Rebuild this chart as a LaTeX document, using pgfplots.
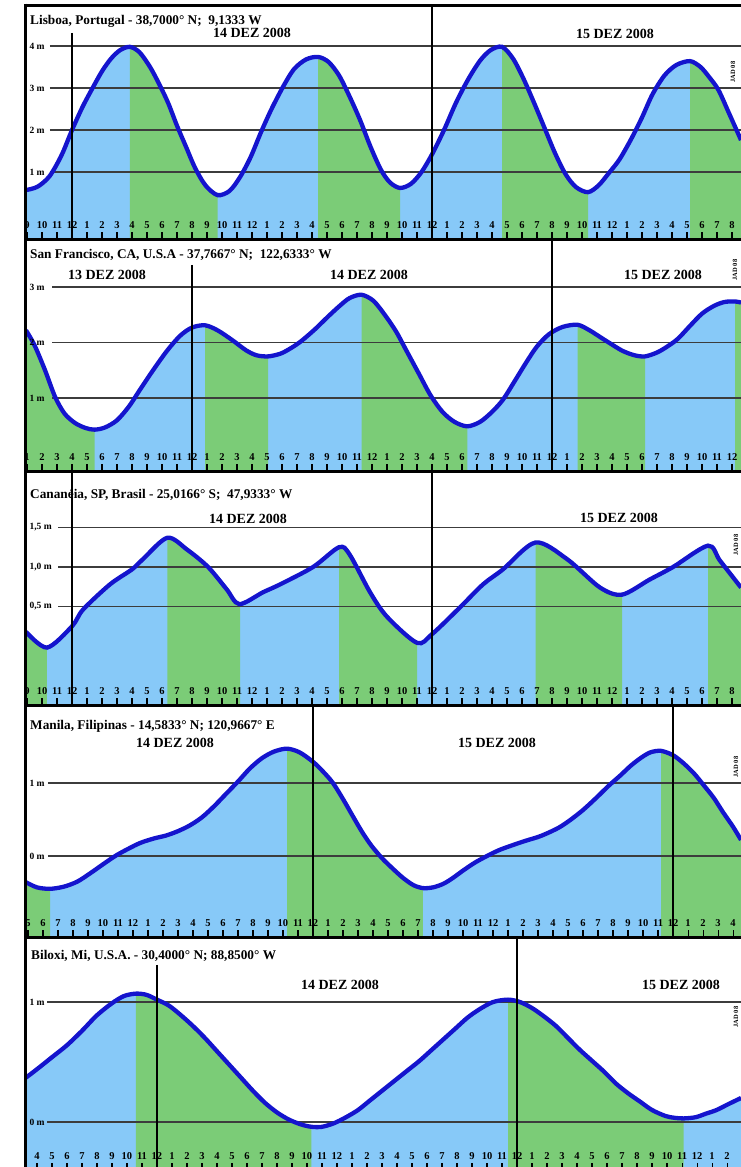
\documentclass[border=0pt]{standalone}
\usepackage{fontspec}
\setmainfont{Liberation Serif}
\usepackage{pgfplots}
\pgfplotsset{compat=1.18}
\usepackage{pgfplotstable}
\usepgfplotslibrary{fillbetween}

\definecolor{seablue}{RGB}{135,201,248}
\definecolor{ebbgreen}{RGB}{123,204,119}
\definecolor{tideline}{RGB}{20,20,205}
\definecolor{gridgray}{RGB}{60,60,60}

% hours from midnight of 14 Dec (Manila: from the line at "12"), height in m
\pgfplotstableread{
h m
-3.07 0.57
-2.3 0.65
-1.5 0.9
-0.7 1.4
0 2.0
0.7 2.55
1.4 3.02
2.0 3.4
2.6 3.7
3.2 3.9
3.85 3.98
4.5 3.85
5.2 3.5
5.8 3.1
6.4 2.65
7.0 2.1
7.6 1.6
8.2 1.1
8.9 0.68
9.7 0.45
10.5 0.55
11.2 0.88
11.9 1.35
12.6 1.95
13.3 2.5
14.1 3.05
14.8 3.45
15.6 3.68
16.4 3.74
17.1 3.62
17.8 3.3
18.5 2.8
19.2 2.24
19.9 1.6
20.6 1.05
21.2 0.75
21.87 0.62
22.6 0.72
23.3 1.0
24 1.42
24.8 2.0
25.6 2.65
26.4 3.2
27.2 3.65
27.9 3.9
28.67 3.98
29.4 3.7
30.1 3.22
30.8 2.65
31.5 2.05
32.2 1.45
32.9 0.95
33.6 0.64
34.4 0.52
35.1 0.68
35.8 0.98
36.5 1.3
37.3 1.8
38.0 2.3
38.7 2.85
39.5 3.3
40.3 3.55
41.2 3.64
41.9 3.5
42.5 3.25
43.1 2.95
43.8 2.4
44.6 1.76
}\lisboa

\pgfplotstableread{
h m
-11.07 2.22
-10.5 1.95
-9.8 1.5
-9.13 1.02
-8.5 0.72
-7.8 0.55
-7.1 0.46
-6.5 0.43
-5.8 0.47
-5.0 0.6
-4.2 0.85
-3.47 1.15
-2.6 1.5
-1.67 1.85
-0.8 2.12
0 2.27
0.87 2.31
1.7 2.22
2.7 2.04
3.6 1.86
4.3 1.77
5.07 1.75
5.9 1.8
6.6 1.9
7.3 2.03
8.2 2.24
9.0 2.45
9.8 2.65
10.5 2.8
11.3 2.86
12.1 2.75
12.9 2.48
13.6 2.2
14.3 1.85
15.1 1.45
15.9 1.05
16.7 0.75
17.5 0.57
18.35 0.49
19.2 0.57
20.0 0.75
20.73 0.97
21.5 1.3
22.3 1.65
23 1.93
23.8 2.15
24.7 2.28
25.7 2.32
26.5 2.22
27.2 2.1
27.9 1.98
28.7 1.85
29.5 1.77
30.2 1.75
31.0 1.82
31.7 1.93
32.4 2.07
33.2 2.3
34.0 2.52
34.8 2.66
35.5 2.73
36.2 2.74
36.6 2.72
}\sanfran

\pgfplotstableread{
h m
-3.07 0.18
-1.67 -0.02
0 0.25
0.73 0.46
2.53 0.78
4.0 0.97
4.73 1.1
6.35 1.37
7.67 1.22
9.07 1.0
10.3 0.72
11.15 0.53
12.73 0.68
13.87 0.78
16.07 1.0
17.8 1.25
18.5 1.16
19.87 0.68
21 0.37
23 0.04
24 0.15
25.87 0.49
27.4 0.78
28.73 0.97
30.9 1.31
33 1.1
35.2 0.74
36.67 0.65
38.5 0.84
40.07 1.0
42.4 1.27
43.2 1.08
44.6 0.74
}\cananeia

\pgfplotstableread{
h m
-19.13 -0.36
-18.4 -0.43
-17.53 -0.45
-16.6 -0.42
-15.7 -0.35
-14.8 -0.23
-13.9 -0.1
-13.1 0.01
-12.3 0.1
-11.5 0.18
-10.6 0.24
-9.8 0.28
-9.0 0.34
-8.2 0.42
-7.4 0.53
-6.6 0.68
-5.8 0.85
-5.0 1.02
-4.2 1.2
-3.4 1.34
-2.6 1.43
-1.73 1.47
-0.9 1.42
0 1.29
0.7 1.15
1.33 1.0
2.0 0.78
2.67 0.54
3.3 0.32
3.9 0.14
4.6 -0.03
5.3 -0.17
6.0 -0.3
6.7 -0.4
7.33 -0.44
8.0 -0.43
8.7 -0.38
9.33 -0.30
10.0 -0.2
10.8 -0.09
11.6 0.0
12.4 0.08
13.33 0.15
14.2 0.21
15.0 0.26
15.6 0.31
16.4 0.39
17.13 0.49
18.0 0.63
18.9 0.8
19.7 0.96
20.47 1.1
21.2 1.24
21.9 1.35
22.5 1.42
23.2 1.44
24 1.38
24.7 1.27
25.4 1.13
26 0.98
26.7 0.8
27.33 0.6
28.0 0.4
28.53 0.22
}\manila

\pgfplotstableread{
h m
-8.73 0.37
-8.0 0.44
-7.0 0.54
-6.0 0.64
-5.0 0.76
-4.0 0.89
-3.0 0.99
-2.2 1.05
-1.4 1.07
-0.7 1.06
0 1.02
0.8 0.97
1.6 0.89
2.4 0.8
3.2 0.7
4.0 0.59
4.8 0.48
5.6 0.37
6.4 0.26
7.2 0.16
8.0 0.08
8.8 0.02
9.6 -0.02
10.3 -0.04
11.0 -0.04
11.8 -0.01
12.6 0.04
13.4 0.1
14.2 0.18
15.0 0.26
15.9 0.35
16.7 0.43
17.5 0.51
18.3 0.6
19.1 0.69
19.9 0.78
20.7 0.87
21.5 0.94
22.4 1.0
23.4 1.02
24.2 1.0
25.0 0.95
25.8 0.88
26.6 0.8
27.4 0.7
28.2 0.6
29.0 0.51
29.8 0.42
30.6 0.32
31.4 0.24
32.2 0.17
33.0 0.1
33.9 0.05
34.5 0.035
35.1 0.03
35.9 0.04
36.6 0.07
37.3 0.1
38.1 0.15
38.93 0.2
}\biloxi

\pgfplotsset{
  panel/.style={
    width=715pt, scale only axis, anchor=north west,
    axis line style={draw=none},
    tick pos=left, tick align=inside,
    xtick={-24,...,48}, major tick length=7pt,
    xtick style={black, line width=1.1pt},
    ytick style={draw=none},
    xticklabel={\pgfmathtruncatemacro\hh{mod(round(\tick)+1200,12)}\ifnum\hh=0 12\else\hh\fi},
    xticklabel style={font=\bfseries\fontsize{10.5}{11}\selectfont, anchor=base, yshift=11pt},
    yticklabel style={font=\bfseries\fontsize{9.5}{10}\selectfont, anchor=west},
    axis on top,
  },
  tide/.style={tideline, line width=4.3pt, smooth},
}
\tikzset{
  gridl/.style={gridgray, line width=1.3pt},
  vline/.style={black, line width=1.3pt},
  ttl/.style={anchor=base west, inner sep=0pt, font=\bfseries\fontsize{13.3}{15}\selectfont},
  dte/.style={anchor=base, inner sep=0pt, font=\bfseries\fontsize{14}{16}\selectfont},
  jad/.style={rotate=90, inner sep=0pt, font=\bfseries\fontsize{6.5}{7}\selectfont},
}

\begin{document}
\begin{tikzpicture}

% Lisboa
\begin{axis}[panel, at={(26pt,-5pt)}, height=234pt,
  xmin=-3.07, xmax=44.6, ymin=-0.595, ymax=4.976,
  ytick={1,2,3,4}, yticklabels={1 m,2 m,3 m,4 m}]
\draw[gridl] (axis cs:-1.47,1) -- (axis cs:50,1);
\draw[gridl] (axis cs:-1.47,2) -- (axis cs:50,2);
\draw[gridl] (axis cs:-1.47,3) -- (axis cs:50,3);
\draw[gridl] (axis cs:-1.47,4) -- (axis cs:50,4);
\addplot[draw=none, smooth, name path=c1] table {\lisboa};
\addplot[draw=none, name path=b1] coordinates {(-3.07,-2) (44.6,-2)};
\addplot[fill=seablue, draw=none] fill between[of=c1 and b1];
\addplot[fill=ebbgreen, draw=none] fill between[of=c1 and b1, soft clip={domain=3.85:9.7}];
\addplot[fill=ebbgreen, draw=none] fill between[of=c1 and b1, soft clip={domain=16.4:21.87}];
\addplot[fill=ebbgreen, draw=none] fill between[of=c1 and b1, soft clip={domain=28.67:34.4}];
\addplot[fill=ebbgreen, draw=none] fill between[of=c1 and b1, soft clip={domain=41.2:44.6}];
\addplot[tide] table {\lisboa};
\draw[vline] (axis cs:0,4.31) -- (axis cs:0,-2);
\draw[vline] (axis cs:24,6) -- (axis cs:24,-2);
\end{axis}

% San Francisco
\begin{axis}[panel, at={(26pt,-239pt)}, height=232pt,
  xmin=-11.07, xmax=36.6, ymin=-0.315, ymax=3.865,
  ytick={1,2,3}, yticklabels={1 m,2 m,3 m}]
\draw[gridl] (axis cs:-9.33,1) -- (axis cs:50,1);
\draw[gridl] (axis cs:-9.33,2) -- (axis cs:50,2);
\draw[gridl] (axis cs:-9.33,3) -- (axis cs:50,3);
\addplot[draw=none, smooth, name path=c2] table {\sanfran};
\addplot[draw=none, name path=b2] coordinates {(-11.07,-2) (36.6,-2)};
\addplot[fill=seablue, draw=none] fill between[of=c2 and b2];
\addplot[fill=ebbgreen, draw=none] fill between[of=c2 and b2, soft clip={domain=-11.07:-6.5}];
\addplot[fill=ebbgreen, draw=none] fill between[of=c2 and b2, soft clip={domain=0.87:5.07}];
\addplot[fill=ebbgreen, draw=none] fill between[of=c2 and b2, soft clip={domain=11.3:18.35}];
\addplot[fill=ebbgreen, draw=none] fill between[of=c2 and b2, soft clip={domain=25.7:30.2}];
\addplot[fill=ebbgreen, draw=none] fill between[of=c2 and b2, soft clip={domain=36.2:36.6}];
\addplot[tide] table {\sanfran};
\draw[vline] (axis cs:0,3.40) -- (axis cs:0,-2);
\draw[vline] (axis cs:24,6) -- (axis cs:24,-2);
\end{axis}

% Cananeia
\begin{axis}[panel, at={(26pt,-471pt)}, height=234pt,
  xmin=-3.07, xmax=44.6, ymin=-0.747, ymax=2.215,
  ytick={0.5,1,1.5}, yticklabels={{0,5 m},{1,0 m},{1,5 m}}]
\draw[gridl] (axis cs:-0.93,0.5) -- (axis cs:50,0.5);
\draw[gridl] (axis cs:-0.93,1) -- (axis cs:50,1);
\draw[gridl] (axis cs:-0.93,1.5) -- (axis cs:50,1.5);
\addplot[draw=none, smooth, name path=c3] table {\cananeia};
\addplot[draw=none, name path=b3] coordinates {(-3.07,-2) (44.6,-2)};
\addplot[fill=seablue, draw=none] fill between[of=c3 and b3];
\addplot[fill=ebbgreen, draw=none] fill between[of=c3 and b3, soft clip={domain=-3.07:-1.67}];
\addplot[fill=ebbgreen, draw=none] fill between[of=c3 and b3, soft clip={domain=6.35:11.2}];
\addplot[fill=ebbgreen, draw=none] fill between[of=c3 and b3, soft clip={domain=17.8:23}];
\addplot[fill=ebbgreen, draw=none] fill between[of=c3 and b3, soft clip={domain=30.9:36.67}];
\addplot[fill=ebbgreen, draw=none] fill between[of=c3 and b3, soft clip={domain=42.4:44.6}];
\addplot[tide] table {\cananeia};
\draw[vline] (axis cs:0,6) -- (axis cs:0,-2);
\draw[vline] (axis cs:24,6) -- (axis cs:24,-2);
\end{axis}

% Manila
\begin{axis}[panel, at={(26pt,-705pt)}, height=232pt,
  xmin=-19.13, xmax=28.53, ymin=-1.11, ymax=2.068,
  ytick={0,1}, yticklabels={0 m,1 m}]
\draw[gridl] (axis cs:-17.67,0) -- (axis cs:50,0);
\draw[gridl] (axis cs:-17.67,1) -- (axis cs:50,1);
\addplot[draw=none, smooth, name path=c4] table {\manila};
\addplot[draw=none, name path=b4] coordinates {(-19.13,-2) (28.53,-2)};
\addplot[fill=seablue, draw=none] fill between[of=c4 and b4];
\addplot[fill=ebbgreen, draw=none] fill between[of=c4 and b4, soft clip={domain=-19.13:-17.53}];
\addplot[fill=ebbgreen, draw=none] fill between[of=c4 and b4, soft clip={domain=-1.73:7.33}];
\addplot[fill=ebbgreen, draw=none] fill between[of=c4 and b4, soft clip={domain=23.2:28.53}];
\addplot[tide] table {\manila};
\draw[vline] (axis cs:0,6) -- (axis cs:0,-2);
\draw[vline] (axis cs:24,6) -- (axis cs:24,-2);
\end{axis}

% Biloxi
\begin{axis}[panel, at={(26pt,-937pt)}, height=233pt,
  xmin=-8.73, xmax=38.93, ymin=-0.4, ymax=1.542,
  ytick={0,1}, yticklabels={0 m,1 m}]
\draw[gridl] (axis cs:-7.33,0) -- (axis cs:50,0);
\draw[gridl] (axis cs:-7.33,1) -- (axis cs:50,1);
\addplot[draw=none, smooth, name path=c5] table {\biloxi};
\addplot[draw=none, name path=b5] coordinates {(-8.73,-2) (38.93,-2)};
\addplot[fill=seablue, draw=none] fill between[of=c5 and b5];
\addplot[fill=ebbgreen, draw=none] fill between[of=c5 and b5, soft clip={domain=-1.4:10.3}];
\addplot[fill=ebbgreen, draw=none] fill between[of=c5 and b5, soft clip={domain=23.4:35.1}];
\addplot[tide] table {\biloxi};
\draw[vline] (axis cs:0,1.31) -- (axis cs:0,-2);
\draw[vline] (axis cs:24,6) -- (axis cs:24,-2);
\end{axis}

% frame
\fill[white] (-20pt,20pt) rectangle (24pt,-1190pt);
\draw[line width=3pt] (25.5pt,-3.5pt) -- (25.5pt,-1170pt);
\foreach \yy in {5,239,471,705,937} {\draw[line width=3pt] (24pt,-\yy pt) -- (741pt,-\yy pt);}

% titles and dates
\node[ttl] at (30pt,-24pt) {Lisboa, Portugal - 38,7000° N;~ 9,1333 W};
\node[dte] at (252pt,-37pt) {14 DEZ 2008};
\node[dte] at (615pt,-38pt) {15 DEZ 2008};
\node[jad] at (733pt,-72pt) {JAD 08};

\node[ttl] at (30pt,-258pt) {San Francisco, CA, U.S.A - 37,7667° N;~ 122,6333° W};
\node[dte] at (107pt,-279pt) {13 DEZ 2008};
\node[dte] at (369pt,-279pt) {14 DEZ 2008};
\node[dte] at (663pt,-279pt) {15 DEZ 2008};
\node[jad] at (735pt,-270pt) {JAD 08};

\node[ttl] at (30pt,-498pt) {Cananéia, SP, Brasil - 25,0166° S;~ 47,9333° W};
\node[dte] at (248pt,-523pt) {14 DEZ 2008};
\node[dte] at (619pt,-522pt) {15 DEZ 2008};
\node[jad] at (736pt,-545pt) {JAD 08};

\node[ttl] at (30pt,-729pt) {Manila, Filipinas - 14,5833° N; 120,9667° E};
\node[dte] at (175pt,-747pt) {14 DEZ 2008};
\node[dte] at (497pt,-747pt) {15 DEZ 2008};
\node[jad] at (736pt,-767pt) {JAD 08};

\node[ttl] at (31pt,-959pt) {Biloxi, Mi, U.S.A. - 30,4000° N; 88,8500° W};
\node[dte] at (340pt,-989pt) {14 DEZ 2008};
\node[dte] at (681pt,-989pt) {15 DEZ 2008};
\node[jad] at (736pt,-1017pt) {JAD 08};

\pgfresetboundingbox
\useasboundingbox (0,0) rectangle (741pt,-1167pt);
\end{tikzpicture}
\end{document}
